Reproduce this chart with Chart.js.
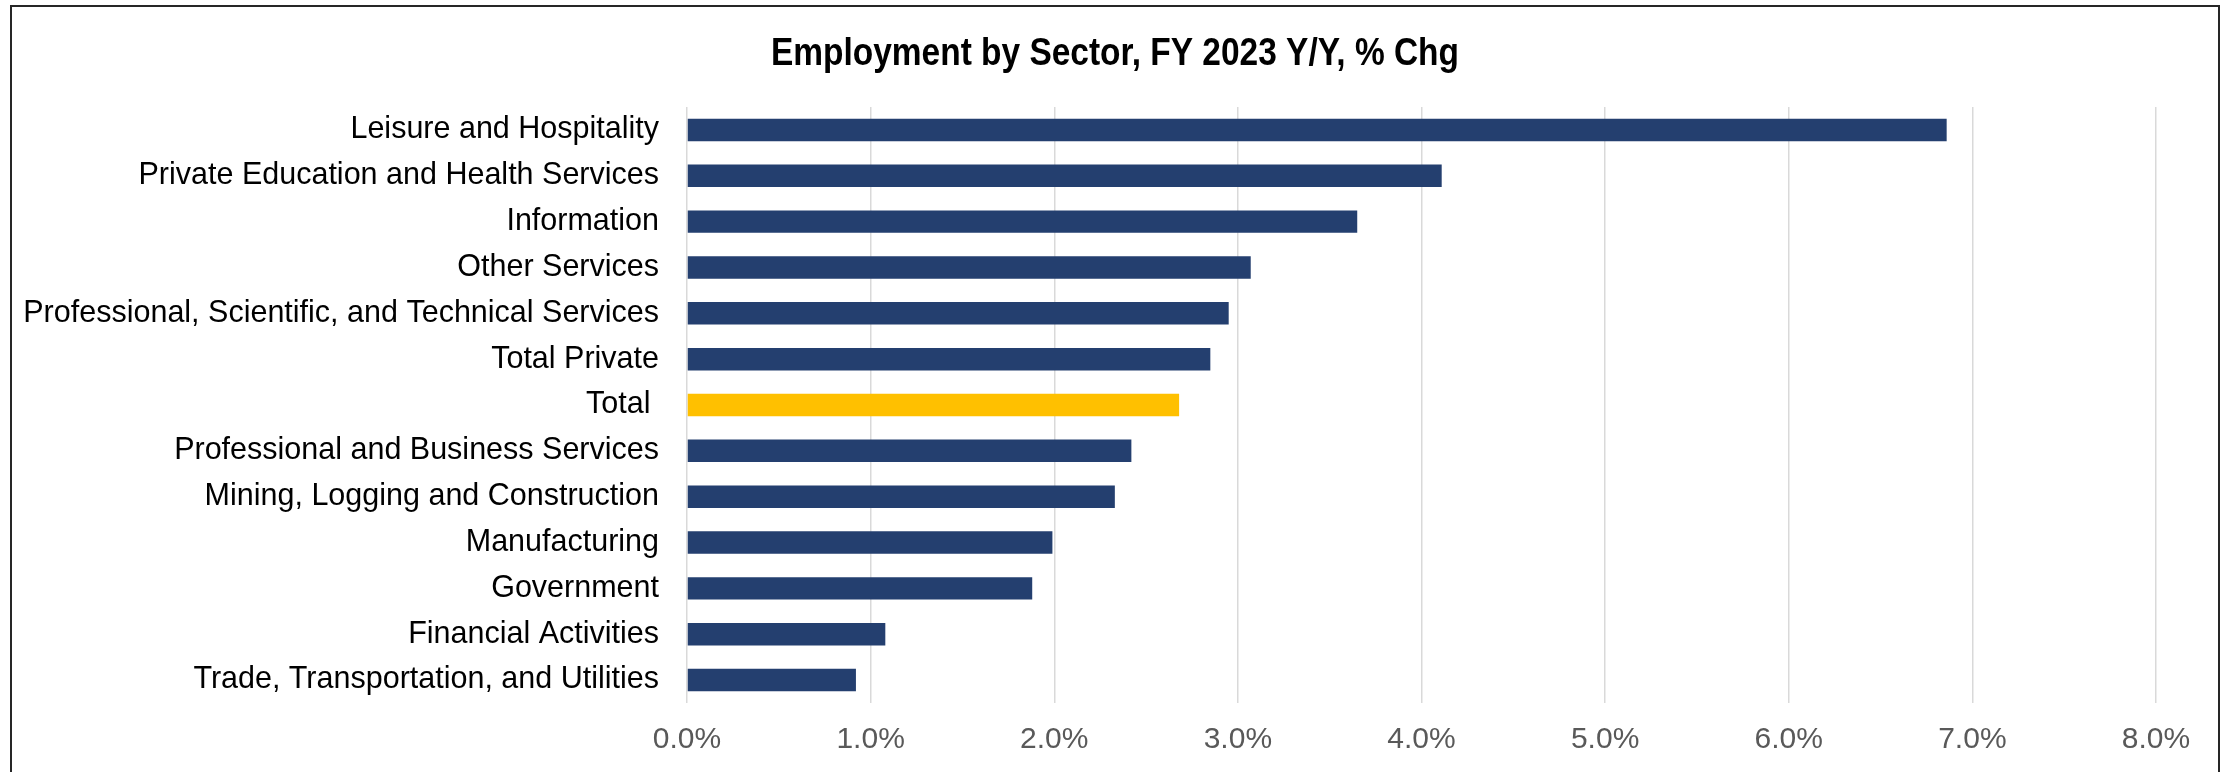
<!DOCTYPE html>
<html>
<head>
<meta charset="utf-8">
<title>Employment by Sector</title>
<script src="https://cdn.jsdelivr.net/npm/chart.js@4.4.1/dist/chart.umd.min.js"></script>
<style>
  html, body { margin: 0; padding: 0; background: #fff; }
  canvas { display: block; }
</style>
</head>
<body>
<canvas id="chart" width="2226" height="772"></canvas>
<script>
const sectors = [
  "Leisure and Hospitality",
  "Private Education and Health Services",
  "Information",
  "Other Services",
  "Professional, Scientific, and Technical Services",
  "Total Private",
  "Total ",
  "Professional and Business Services",
  "Mining, Logging and Construction",
  "Manufacturing",
  "Government",
  "Financial Activities",
  "Trade, Transportation, and Utilities",
];

// FY 2023 year-over-year change, percent
const pctChange = [6.86, 4.11, 3.65, 3.07, 2.95, 2.85, 2.68, 2.42, 2.33, 1.99, 1.88, 1.08, 0.92];

const xTicks = [0, 1, 2, 3, 4, 5, 6, 7, 8];

const chartTitle = "Employment by Sector, FY 2023 Y/Y, % Chg";

const NAVY = "#243F6F";
const GOLD = "#FFC000";

// outer frame plus a condensed bold title (no narrow font installed, so squeeze it)
const framePlugin = {
  id: "frame",
  afterDraw(chart) {
    const ctx = chart.ctx;
    ctx.save();
    ctx.strokeStyle = "#262626";
    ctx.lineWidth = 2;
    ctx.strokeRect(11, 6, 2208, 900);

    ctx.font = "bold 39px 'Liberation Sans', Arial, sans-serif";
    ctx.fillStyle = "#000";
    ctx.textAlign = "center";
    ctx.textBaseline = "alphabetic";
    const w = ctx.measureText(chartTitle).width;
    const sx = 688 / w;
    ctx.translate(1115, 65);
    ctx.scale(sx, 1);
    ctx.fillText(chartTitle, 0, 0);
    ctx.restore();
  },
};

new Chart(document.getElementById("chart"), {
  type: "bar",
  data: {
    labels: sectors,
    datasets: [
      {
        label: "Y/Y % Chg",
        data: pctChange,
        backgroundColor: sectors.map((s) => (s.trim() === "Total" ? GOLD : NAVY)),
        barPercentage: 0.49,
        categoryPercentage: 1.0,
      },
    ],
  },
  options: {
    indexAxis: "y",
    responsive: false,
    animation: false,
    devicePixelRatio: 1,
    layout: {
      padding: { left: 0, right: 70, top: 107, bottom: 0 },
    },
    plugins: {
      legend: { display: false },
      tooltip: { enabled: false },
      title: { display: false },
    },
    scales: {
      x: {
        min: 0,
        max: 8,
        afterBuildTicks(scale) {
          scale.ticks = xTicks.map((v) => ({ value: v }));
        },
        afterFit(scale) {
          scale.height = 69;
        },
        grid: {
          color: "#D9D9D9",
          lineWidth: 1.5,
          drawTicks: false,
        },
        border: { display: false },
        ticks: {
          padding: 19,
          color: "#595959",
          font: { family: "'Liberation Sans', Arial, sans-serif", size: 30 },
          callback: (v) => v.toFixed(1) + "%",
        },
      },
      y: {
        afterFit(scale) {
          scale.width = 687;
        },
        grid: { display: false, drawTicks: false },
        border: { display: false },
        ticks: {
          padding: 28,
          color: "#000",
          font: { family: "'Liberation Sans', Arial, sans-serif", size: 30.5 },
        },
      },
    },
  },
  plugins: [framePlugin],
});
</script>
</body>
</html>
